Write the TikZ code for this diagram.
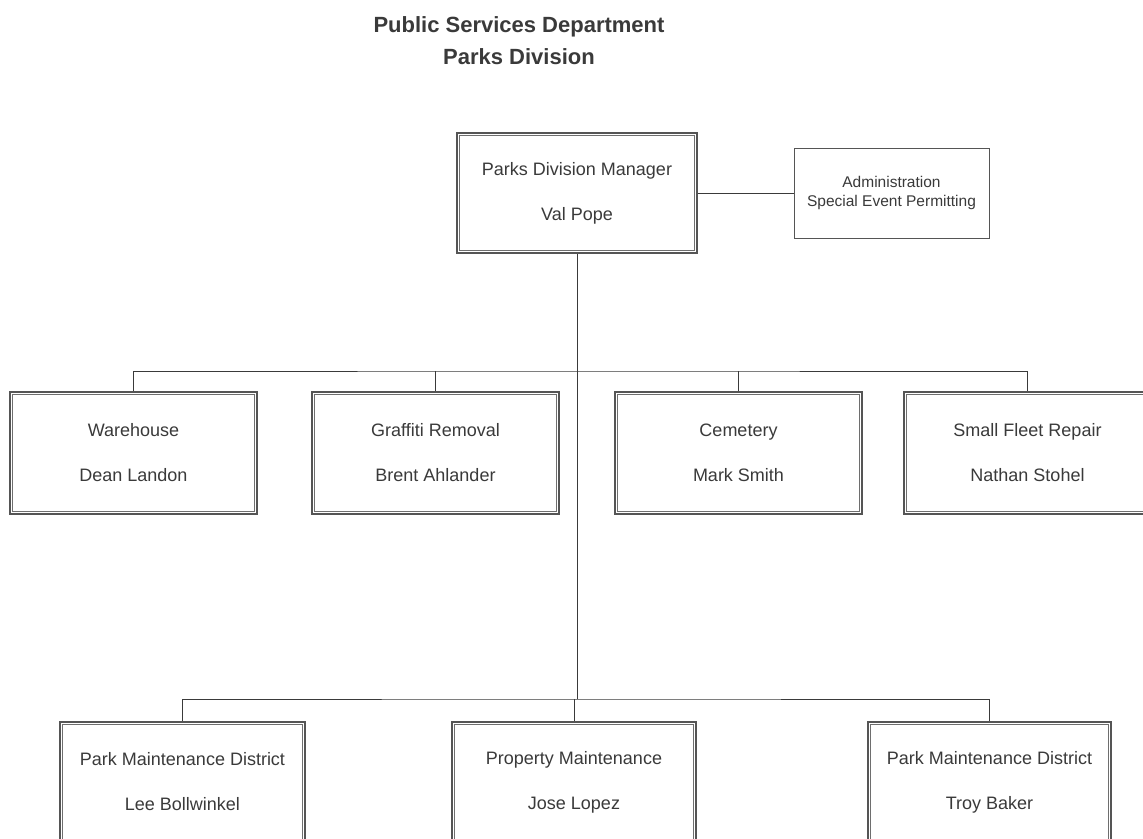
\documentclass[tikz,border=0pt]{standalone}
\usepackage{fontspec}
\setmainfont{Liberation Sans}
\definecolor{ink}{HTML}{3A3A3A}
\definecolor{edge}{HTML}{555555}
\begin{document}
\begin{tikzpicture}[x=1pt,y=-1pt,
  dbox/.style={draw=edge, line width=1.1pt,
    inner sep=0pt, text=ink, align=center,
    font=\fontsize{18}{45}\selectfont},
  innerline/.style={draw=edge!85, line width=0.8pt},
  sbox/.style={draw=edge, line width=0.9pt, inner sep=0pt, text=ink, align=center,
    font=\fontsize{15.5}{19}\selectfont},
  conn/.style={draw=ink, line width=0.9pt}]
\useasboundingbox (0,0) rectangle (1143,838);
\fill[white] (0,0) rectangle (1143,838);

\node[text=ink, align=center, font=\fontsize{22}{32}\selectfont\bfseries] (title) at (519,41)
  {Public Services Department\\Parks Division};

\node[dbox, minimum width=240, minimum height=120] (mgr) at (577,193)
  {Parks Division Manager\\Val Pope};
\node[sbox, minimum width=195, minimum height=90] (adm) at (891.5,193)
  {Administration\\Special Event Permitting};

\node[dbox, minimum width=247, minimum height=122] (wh) at (133.5,453) {Warehouse\\Dean Landon};
\node[dbox, minimum width=247, minimum height=122] (gr) at (435.5,453) {Graffiti Removal\\Brent Ahlander};
\node[dbox, minimum width=247, minimum height=122] (ce) at (738.5,453) {Cemetery\\Mark Smith};
\node[dbox, minimum width=247, minimum height=122] (fl) at (1027.5,453) {Small Fleet Repair\\Nathan Stohel};

\node[dbox, minimum width=245, minimum height=120] (pm1) at (182.5,782) {Park Maintenance District\\Lee Bollwinkel};
\node[dbox, minimum width=244, minimum height=120] (pr) at (574,782) {Property Maintenance\\Jose Lopez};
\node[dbox, minimum width=243, minimum height=120] (pm2) at (989.5,782) {Park Maintenance District\\Troy Baker};

\foreach \n in {mgr,wh,gr,ce,fl,pm1,pr,pm2}
  \draw[innerline] ([shift={(3,3)}]\n.north west) rectangle ([shift={(-3,-3)}]\n.south east);

\coordinate (tb) at (577,371);
\coordinate (bb) at (577,699);

\draw[conn] (mgr.east) -- (adm.west);
\draw[conn] (mgr.south) -- (bb);
\draw[conn] (wh.north) |- (tb) -| (fl.north);
\draw[conn] (gr.north) -- (gr.north |- tb);
\draw[conn] (ce.north) -- (ce.north |- tb);
\draw[conn] (pm1.north) |- (bb) -| (pm2.north);
\draw[conn] (pr.north) -- (pr.north |- bb);
\end{tikzpicture}
\end{document}
